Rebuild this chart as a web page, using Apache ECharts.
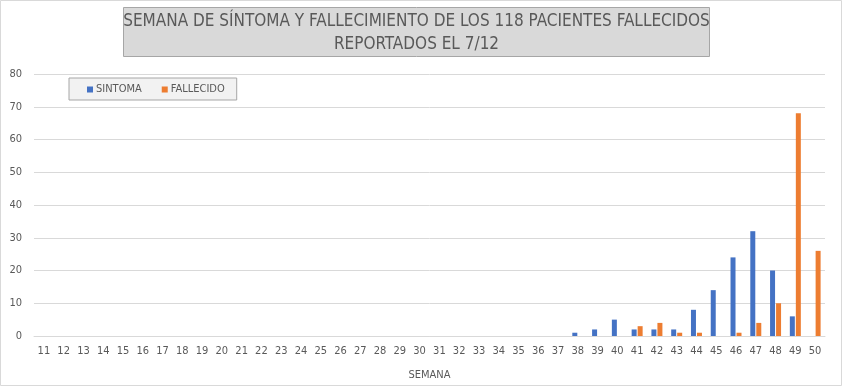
<!DOCTYPE html>
<html><head><meta charset="utf-8">
<script src="https://cdn.jsdelivr.net/npm/echarts@6/dist/echarts.min.js"></script>
<style>
html,body{margin:0;padding:0;background:#fff;}
#c{width:842px;height:386px;}
</style></head>
<body><div id="c"></div>
<script>
const semanas = ['11','12','13','14','15','16','17','18','19','20','21','22','23','24','25','26','27','28','29','30','31','32','33','34','35','36','37','38','39','40','41','42','43','44','45','46','47','48','49','50'];
const sintoma = [0,0,0,0,0,0,0,0,0,0,0,0,0,0,0,0,0,0,0,0,0,0,0,0,0,0,0,1,2,5,2,2,2,8,14,24,32,20,6,0];
const fallecido = [0,0,0,0,0,0,0,0,0,0,0,0,0,0,0,0,0,0,0,0,0,0,0,0,0,0,0,0,0,0,3,4,1,1,0,1,4,10,68,26];
const yTicks = [0,10,20,30,40,50,60,70,80];
const titleLines = ['SEMANA DE SÍNTOMA Y FALLECIMIENTO DE LOS 118 PACIENTES FALLECIDOS','REPORTADOS EL 7/12'];

const FONT = "'Liberation Sans Narrow','DejaVu Sans Condensed','Liberation Sans',sans-serif";
const chart = echarts.init(document.getElementById('c'), null, {renderer:'canvas'});
chart.setOption({
  animation:false,
  textStyle:{fontFamily:FONT},
  graphic:[{type:'rect',left:0,top:0,z:-10,silent:true,
    shape:{x:0.5,y:0.5,width:841,height:385},
    style:{fill:'#ffffff',stroke:'#d9d9d9',lineWidth:1}}],
  title:{
    text:titleLines.map(function(l){return '{a|'+l+'}';}).join('\n'),
    left:124, top:7,
    backgroundColor:'#d9d9d9',
    borderColor:'#a6a6a6', borderWidth:1,
    padding:[3,0,1,0],
    textStyle:{fontFamily:FONT,fontSize:17,fontWeight:'normal',color:'#595959',lineHeight:23,
      rich:{a:{fontFamily:FONT,fontSize:17,color:'#595959',lineHeight:23,width:585,align:'center'}}}
  },
  legend:{
    left:69, top:78,
    width:150,
    backgroundColor:'#f2f2f2',
    borderColor:'#a6a6a6', borderWidth:1,
    padding:[6,12,5,18],
    itemWidth:6, itemHeight:6, itemGap:20,
    icon:'rect',
    textStyle:{fontFamily:FONT,fontSize:11,color:'#595959',padding:[0,0,0,-2]},
    data:['SINTOMA','FALLECIDO']
  },
  grid:{left:34,right:17,top:74,bottom:48,containLabel:false},
  xAxis:{
    type:'category', data:semanas,
    name:'SEMANA', nameLocation:'middle', nameGap:34,
    nameTextStyle:{fontFamily:FONT,fontSize:11,color:'#595959'},
    axisLine:{show:true,lineStyle:{color:'#d9d9d9'}},
    axisTick:{show:false},
    axisLabel:{color:'#595959',fontSize:11,margin:10,interval:0,fontFamily:FONT}
  },
  yAxis:{
    type:'value', min:0, max:80, interval:10,
    axisLine:{show:false}, axisTick:{show:false},
    axisLabel:{color:'#595959',fontSize:11,margin:12,fontFamily:FONT,
      formatter:function(v){return yTicks.indexOf(v)>=0?String(v):'';}},
    splitLine:{lineStyle:{color:'#d9d9d9',width:1}}
  },
  series:[
    {name:'SINTOMA',type:'bar',data:sintoma,barWidth:5,barGap:'20%',itemStyle:{color:'#4472C4'}},
    {name:'FALLECIDO',type:'bar',data:fallecido,barWidth:5,barGap:'20%',itemStyle:{color:'#ED7D31'}}
  ]
});
</script></body></html>
